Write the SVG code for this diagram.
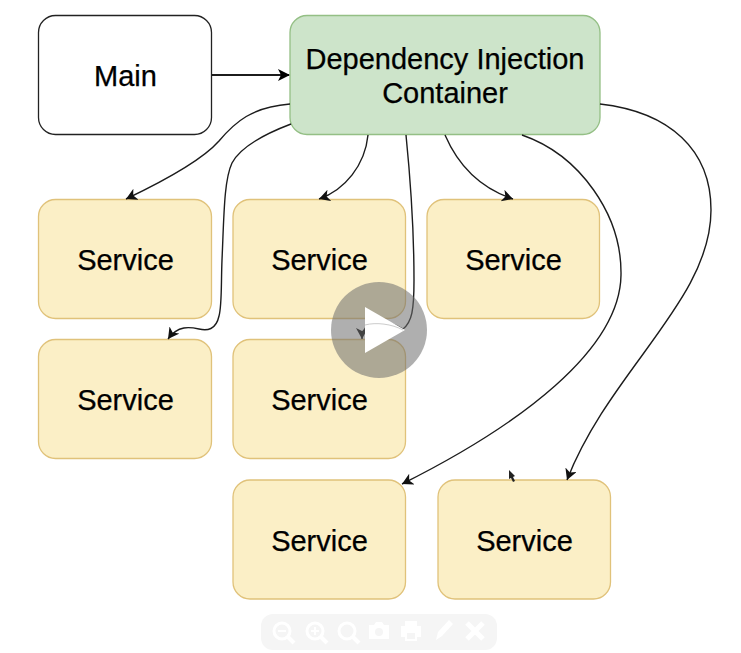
<svg xmlns="http://www.w3.org/2000/svg" width="741" height="653" viewBox="0 0 741 653">
<style>
text{font-family:"Liberation Sans",Arial,sans-serif;font-size:29px;fill:#000;text-anchor:middle;stroke:#000;stroke-width:.25}
.s rect{fill:#fbefc6;stroke:#e0c27a;stroke-width:1.3}
.c path{fill:none;stroke:#1c1c1c;stroke-width:1.4}
</style>
<defs>
<marker id="a" markerUnits="userSpaceOnUse" markerWidth="14" markerHeight="14" refX="11" refY="6" orient="auto"><path d="M0 0L11 6L0 12L3 6Z" fill="#111"/></marker>
<marker id="b" markerUnits="userSpaceOnUse" markerWidth="14" markerHeight="14" refX="11" refY="6" orient="auto"><path d="M0 0L12 6L0 12L3 6Z" fill="#000"/></marker>
<g id="zo"><circle cx="0" cy="0" r="8" fill="none" stroke="#fff" stroke-width="3"/><path d="M6 6L12 12" stroke="#fff" stroke-width="4"/></g>
</defs>
<rect width="741" height="653" fill="#fff"/>
<g id="main"><rect x="38.500" y="15.500" width="173" height="119" rx="17" fill="#fff" stroke="#222" stroke-width="1.300"/><text x="125.500" y="85.500">Main</text></g>
<g id="container"><rect x="290" y="15.500" width="310" height="119" rx="17" fill="#cde4ca" stroke="#94bf85" stroke-width="1.300"/><text x="445" y="68.500">Dependency Injection</text><text x="445" y="102.500">Container</text></g>
<g id="s1" class="s"><rect x="38.500" y="199.500" width="173" height="119" rx="17"/><text x="125.500" y="270">Service</text></g>
<g id="s2" class="s"><rect x="233" y="199.500" width="172.500" height="119" rx="17"/><text x="319.500" y="270">Service</text></g>
<g id="s3" class="s"><rect x="427" y="199.500" width="172.500" height="119" rx="17"/><text x="513.500" y="270">Service</text></g>
<g id="s4" class="s"><rect x="38.500" y="339.500" width="173" height="119" rx="17"/><text x="125.500" y="410">Service</text></g>
<g id="s5" class="s"><rect x="233" y="339.500" width="172.500" height="119" rx="17"/><text x="319.500" y="410">Service</text></g>
<g id="s6" class="s"><rect x="233" y="480" width="172.500" height="119" rx="17"/><text x="319.500" y="551">Service</text></g>
<g id="s7" class="s"><rect x="438" y="480" width="172.500" height="119" rx="17"/><text x="524.500" y="551">Service</text></g>
<g id="connectors" class="c">
<path d="M212 75H289" style="stroke-width:2.200" marker-end="url(#b)"/>
<path d="M290 104C252 107 235 122 219 141C204 158 170 178 126 199" marker-end="url(#a)"/>
<path d="M291 124C262 135 240 148 232 163C224 180 224 215 222 260C221 285 222 305 219 316C216 330 207 331 199 329C190 327 178 325 168 339" marker-end="url(#a)"/>
<path d="M368 135C365 165 345 190 319 199" marker-end="url(#a)"/>
<path d="M406 135C410 175 414 230 414 280C414 310 412 322 403 329C385 318 362 320 362 339" marker-end="url(#a)"/>
<path d="M445 135C458 165 480 188 513 199" marker-end="url(#a)"/>
<path d="M522 135C580 155 622 215 621 275C620 350 520 425 402 484" marker-end="url(#a)"/>
<path d="M600 104C670 112 711 150 711 210C711 300 610 370 567 480" marker-end="url(#a)"/>
</g>
<g id="player"><circle cx="379" cy="330" r="48" fill="#6e6e6e" fill-opacity=".55"/><path d="M365 307L405 330L365 353Z" fill="#fff"/><path d="M365 325C376 322 392 324 403 330" fill="none" stroke="#ccc" stroke-width="1"/></g>
<path id="cursor" d="M509 470L515 476L513 477L515 481L513 482L511 478L509 479Z" fill="#222"/>
<g id="toolbar"><rect x="261" y="614" width="236" height="36" rx="12" fill="#f5f5f5"/>
<use href="#zo" x="282" y="631"/><path d="M278 631H286" stroke="#fff" stroke-width="2"/>
<use href="#zo" x="315" y="631"/><path d="M311 631H319M315 627V635" stroke="#fff" stroke-width="2"/>
<use href="#zo" x="347" y="631"/>
<path d="M369 625H374L376 622H382L384 625H389V639H369Z" fill="#fff"/><circle cx="379" cy="632" r="4" fill="#f5f5f5"/>
<path d="M405 621H417V626H421V637H417V641H405V637H401V626H405Z" fill="#fff"/><path d="M407 633H415V639H407Z" fill="#f5f5f5"/>
<path d="M436 640L438 632L449 620L453 624L442 636Z" fill="#fff"/>
<path d="M467 623L483 639M483 623L467 639" stroke="#fff" stroke-width="5"/></g>
</svg>
